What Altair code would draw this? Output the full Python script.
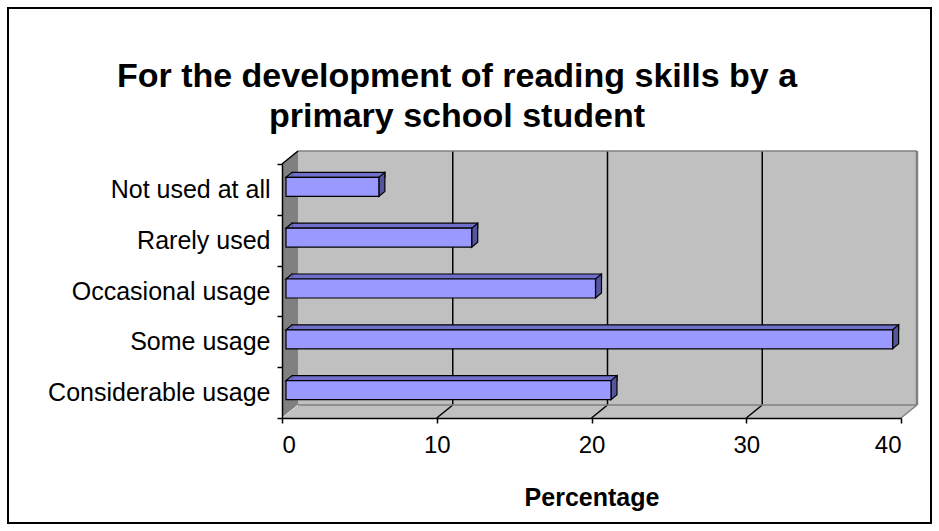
import altair as alt
import pandas as pd

categories = ["Not used at all", "Rarely used", "Occasional usage", "Some usage", "Considerable usage"]
values = [6, 12, 20, 39.2, 21]
x_ticks = [0, 10, 20, 30, 40]
grid_ticks = [10, 20, 30]
title_lines = ["For the development of reading skills by a", "primary school student"]
x_title = "Percentage"

df = pd.DataFrame({"category": categories, "value": values, "zero": [0] * len(values)})
grid_df = pd.DataFrame({"t": grid_ticks})
frame_df = pd.DataFrame({"lo": [x_ticks[0]], "hi": [x_ticks[-1]]})

FONT = "Liberation Sans"
W, H = 619, 254
DX, DY = 16, -13          # depth of the 3D frame (px)
FRONT = "#9999FF"
TOP = "#7070CC"
SIDE = "#55559E"
WALL = "#C0C0C0"
SIDEWALL = "#808080"

x_scale = alt.Scale(domain=[0, 40], nice=False, zero=True)
y_scale = alt.Scale(domain=categories, paddingInner=0, paddingOuter=0)

x_axis = alt.Axis(values=x_ticks, grid=False, tickSize=5, tickColor="black", tickWidth=1.5,
                  domainColor="black", domainWidth=1.5, labelFont=FONT, labelFontSize=24,
                  labelColor="black", labelPadding=10, title=x_title, titleFont=FONT,
                  titleFontSize=25, titleFontWeight="bold", titleColor="black",
                  titlePadding=28, zindex=2)
y_axis = alt.Axis(grid=False, tickBand="extent", tickSize=5, tickColor="black", tickWidth=1.5,
                  domainColor="black", domainWidth=1.5, labelFont=FONT, labelFontSize=25,
                  labelColor="black", labelPadding=7, labelLimit=500, title=None, zindex=2)


def XF(field):
    return alt.X(field, scale=x_scale, axis=x_axis)


XLO = XF("lo:Q")
XHI = alt.X2("hi:Q")
XHI_P = XF("hi:Q")

fr = alt.Chart(frame_df)

# outer border
border = fr.mark_rect(fillOpacity=0, stroke="black", strokeWidth=2).encode(
    x=alt.value(-274), x2=alt.value(649), y=alt.value(-156), y2=alt.value(359))

# title (two centred lines)
title1 = alt.Chart(pd.DataFrame({"line": [title_lines[0]]})).mark_text(
    font=FONT, fontSize=34, fontWeight="bold", color="black", align="center", baseline="middle"
).encode(text="line:N", x=alt.value(175), y=alt.value(-87))
title2 = alt.Chart(pd.DataFrame({"line": [title_lines[1]]})).mark_text(
    font=FONT, fontSize=34, fontWeight="bold", color="black", align="center", baseline="middle"
).encode(text="line:N", x=alt.value(175), y=alt.value(-47))

# back wall
wall = fr.mark_rect(fill=WALL, xOffset=DX, x2Offset=DX).encode(
    x=XLO, x2=XHI, y=alt.value(DY), y2=alt.value(H + DY))
# floor
floor = fr.mark_rect(fill=WALL).encode(
    x=XLO, x2=XHI, y=alt.value(H + DY), y2=alt.value(H))
floor_end = fr.mark_point(
    shape=f"M0,0 L0,{DY} L{DX},{DY} Z", size=4, filled=True, fill=WALL, strokeWidth=0, opacity=1
).encode(x=XHI_P, y=alt.value(H))
# left side wall
side_wall = fr.mark_point(
    shape=f"M0,0 L{DX},{DY} L{DX},{H + DY} L0,{H} Z", size=4, filled=True, fill=SIDEWALL,
    strokeWidth=0, opacity=1
).encode(x=XLO, y=alt.value(0))
side_wall_top = fr.mark_point(
    shape=f"M0,0 L{DX},{DY}", size=4, filled=False, stroke="black", strokeWidth=1.5, opacity=1
).encode(x=XLO, y=alt.value(0))
side_wall_bottom = fr.mark_point(
    shape=f"M0,0 L{DX},{DY}", size=4, filled=False, stroke="#E6E6E6", strokeWidth=1, opacity=1
).encode(x=XLO, y=alt.value(H))

# wall edges
wall_top = fr.mark_rule(color="#808080", strokeWidth=1.5, xOffset=DX, x2Offset=DX).encode(
    x=XLO, x2=XHI, y=alt.value(DY))
wall_bottom = fr.mark_rule(color="#808080", strokeWidth=1.5, xOffset=DX, x2Offset=DX).encode(
    x=XLO, x2=XHI, y=alt.value(H + DY))
wall_right = fr.mark_rule(color="#808080", strokeWidth=2.5, xOffset=DX).encode(
    x=XHI_P, y=alt.value(DY), y2=alt.value(H + DY))
floor_right = fr.mark_point(
    shape=f"M0,0 L{DX},{DY}", size=4, filled=False, stroke="#808080", strokeWidth=1.5, opacity=1
).encode(x=XHI_P, y=alt.value(H))

# gridlines: vertical on back wall + diagonal on floor
GX = XF("t:Q")
grid_v = alt.Chart(grid_df).mark_rule(color="black", strokeWidth=1.5, xOffset=DX).encode(
    x=GX, y=alt.value(DY), y2=alt.value(H + DY))
grid_d = alt.Chart(grid_df).mark_point(
    shape=f"M0,0 L{DX},{DY}", size=4, filled=False, stroke="black", strokeWidth=1.5, opacity=1
).encode(x=GX, y=alt.value(H))

# 3D bars
base = alt.Chart(df)
Xv = XF("value:Q")
Xz = XF("zero:Q")
Y = alt.Y("category:N", scale=y_scale, axis=y_axis, sort=categories)

top_rect = base.mark_bar(size=5, fill=TOP, stroke="black", strokeWidth=1.2,
                         xOffset=10, x2Offset=10, yOffset=-14.5, y2Offset=-14.5).encode(x=Xv, y=Y)
top_left = base.mark_point(
    shape="M10.6,-12 L4,-12 L10,-17 L10.6,-17", size=4, filled=True, fill=TOP,
    stroke="black", strokeWidth=1.2, opacity=1
).encode(x=Xz, y=Y)
side_face = base.mark_point(
    shape="M4,-12 L10,-17 L10,2 L4,7 Z", size=4, filled=True, fill=SIDE,
    stroke="black", strokeWidth=1.2, opacity=1
).encode(x=Xv, y=Y)
front = base.mark_bar(size=19, fill=FRONT, stroke="black", strokeWidth=1.2,
                      xOffset=4, x2Offset=4, yOffset=-2.5, y2Offset=-2.5).encode(x=Xv, y=Y)

chart = alt.layer(
    border, title1, title2, wall, floor, floor_end, side_wall, side_wall_bottom,
    grid_v, grid_d, wall_top, wall_bottom, wall_right, floor_right, side_wall_top,
    top_rect, top_left, side_face, front
).properties(
    width=W, height=H,
    padding={"left": 282, "top": 164, "right": 38, "bottom": 113},
    autosize=alt.AutoSizeParams(type="none"),
).configure_view(stroke=None).configure(background="white")

chart.save("out.html", embed_options={"renderer": "svg", "actions": False})
